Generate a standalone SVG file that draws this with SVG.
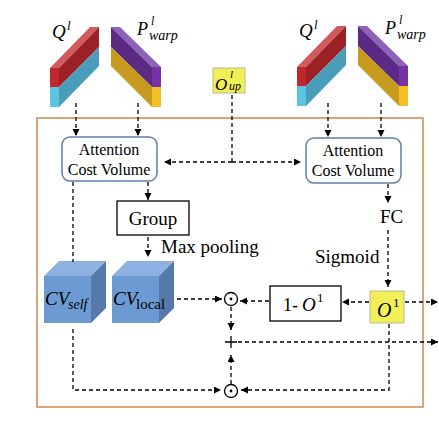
<svg xmlns="http://www.w3.org/2000/svg" width="439" height="429" viewBox="0 0 439 429" font-family="'Liberation Serif', 'DejaVu Serif', serif">
<defs>
<marker id="ah" markerUnits="userSpaceOnUse" markerWidth="8" markerHeight="8" refX="7" refY="3.5" orient="auto">
<path d="M0,0 L7,3.5 L0,7 z" fill="#000"/>
</marker>
<g id="qslab">
<rect x="50" y="68" width="9" height="19" fill="#C0282E"/>
<rect x="50" y="87" width="9" height="20" fill="#5CC3E3"/>
<polygon points="50,68 59,68 99,27 90,27" fill="#D05A5C"/>
<polygon points="59,68 99,27 99,47 59,87" fill="#9C2127"/>
<polygon points="59,87 99,47 99,66 59,107" fill="#4A9DBA"/>
</g>
<g id="pslab">
<rect x="152" y="67" width="9" height="20" fill="#7533A5"/>
<rect x="152" y="87" width="9" height="20" fill="#F5C025"/>
<polygon points="152,67 161,67 120,27 111,27" fill="#8F62BA"/>
<polygon points="152,67 111,27 111,47 152,87" fill="#5B2A85"/>
<polygon points="152,87 111,47 111,66 152,107" fill="#C69A1F"/>
</g>
</defs>
<style>
text{font-family:'Liberation Serif','DejaVu Serif',serif;fill:#000}
.it{font-style:italic}
.dash{fill:none;stroke:#000;stroke-width:1.3;stroke-dasharray:4,3}
.arr{marker-end:url(#ah)}
.acv{fill:#fff;stroke:#5F7FA8;stroke-width:1.5}
.box{fill:#fff;stroke:#000;stroke-width:1.3}
.yel{fill:#F0EF55;stroke:#B8B8A0;stroke-width:1}
.cf{fill:#6C9BD3}
.ct{fill:#8DB1E0}
.cs{fill:#5479AA}
.lbl{font-size:16px}
.big{font-size:19px}
.op{fill:none;stroke:#000;stroke-width:1.3}
</style>

<rect id="frame" x="37" y="118" width="386" height="289" fill="none" stroke="#D4854C" stroke-width="1.5"/>

<g id="slabs-left">
<use href="#qslab"/>
<use href="#pslab"/>
<text class="it" x="52" y="38" font-size="19">Q</text>
<text class="it" x="67" y="30" font-size="13">l</text>
<text class="it" x="137" y="35" font-size="18">P</text>
<text class="it" x="151" y="25" font-size="12">l</text>
<text class="it" x="149" y="40" font-size="14">warp</text>
</g>
<g id="slabs-right">
<use href="#qslab" transform="translate(247,-1)"/>
<use href="#pslab" transform="translate(247,-1)"/>
<text class="it" x="299" y="37" font-size="19">Q</text>
<text class="it" x="314" y="29" font-size="13">l</text>
<text class="it" x="385" y="34" font-size="18">P</text>
<text class="it" x="399" y="24" font-size="12">l</text>
<text class="it" x="397" y="39" font-size="14">warp</text>
</g>

<g id="oup">
<rect class="yel" x="213" y="68" width="32" height="25"/>
<text class="it" x="215" y="90" font-size="17">O</text>
<text class="it" x="230" y="78" font-size="11">l</text>
<text class="it" x="229" y="90" font-size="12">up</text>
</g>

<g id="acv-left">
<rect class="acv" x="62" y="137" width="95" height="44" rx="8"/>
<text class="lbl" x="109" y="155" text-anchor="middle">Attention</text>
<text class="lbl" x="109" y="175" text-anchor="middle">Cost Volume</text>
</g>
<g id="acv-right">
<rect class="acv" x="306" y="138" width="95" height="45" rx="8"/>
<text class="lbl" x="353" y="156" text-anchor="middle">Attention</text>
<text class="lbl" x="353" y="176" text-anchor="middle">Cost Volume</text>
</g>

<g id="group">
<rect class="box" x="117" y="201" width="72" height="34"/>
<text class="big" x="153" y="225" text-anchor="middle">Group</text>
</g>
<text id="maxpool" class="big" x="161" y="253">Max pooling</text>
<text id="fc" class="big" x="380" y="223">FC</text>
<text id="sigmoid" class="big" x="315" y="263">Sigmoid</text>

<g id="cv-self">
<polygon class="ct" points="44,276 91,276 106,261 59,261"/>
<polygon class="cs" points="91,276 106,261 106,308 91,323"/>
<rect class="cf" x="44" y="276" width="47" height="47"/>
<text class="it" x="45" y="305" font-size="19">CV</text>
<text class="it" x="68" y="309" font-size="14">self</text>
</g>
<g id="cv-local">
<polygon class="ct" points="112,276 159,276 174,261 127,261"/>
<polygon class="cs" points="159,276 174,261 174,308 159,323"/>
<rect class="cf" x="112" y="276" width="47" height="47"/>
<text class="it" x="113" y="305" font-size="19">CV</text>
<text x="136" y="309" font-size="15">local</text>
</g>

<g id="one-minus">
<rect class="box" x="270" y="286" width="71" height="35"/>
<text x="283" y="311" font-size="18">1- </text>
<text class="it" x="302" y="311" font-size="19">O</text>
<text x="317" y="302" font-size="13">1</text>
</g>
<g id="o1">
<rect class="yel" x="370" y="291" width="34" height="32"/>
<text class="it" x="377" y="317" font-size="20">O</text>
<text x="393" y="307" font-size="13">1</text>
</g>

<g id="ops">
<circle class="op" cx="231" cy="299" r="6.5"/>
<circle cx="231" cy="299" r="1.4" fill="#000"/>
<path class="op" d="M225,342 H237 M231,336 V348"/>
<circle class="op" cx="231" cy="391" r="6.5"/>
<circle cx="231" cy="391" r="1.4" fill="#000"/>
</g>

<g id="connectors">
<path class="dash arr" d="M76,103 V136"/>
<path class="dash arr" d="M138,103 V136"/>
<path class="dash arr" d="M328,103 V137"/>
<path class="dash arr" d="M381,103 V137"/>
<path class="dash" d="M232,95 V162"/>
<path class="dash arr" d="M232,162 H164"/>
<path class="dash arr" d="M232,162 H301"/>
<path class="dash arr" d="M148,182 V200"/>
<path class="dash arr" d="M148,237 V257"/>
<path class="dash" d="M73,182 V262"/>
<path class="dash arr" d="M388,184 V203"/>
<path class="dash arr" d="M388,230 V287"/>
<path class="dash arr" d="M177,299 H222"/>
<path class="dash arr" d="M269,301 H240"/>
<path class="dash arr" d="M369,302 H342"/>
<path class="dash arr" d="M405,302 H438"/>
<path class="dash arr" d="M231,307 V330"/>
<path class="dash arr" d="M238,342 H438"/>
<path class="dash arr" d="M231,384 V355"/>
<path class="dash arr" d="M73,329 V390 H221"/>
<path class="dash arr" d="M389,324 V390 H241"/>
</g>
</svg>
